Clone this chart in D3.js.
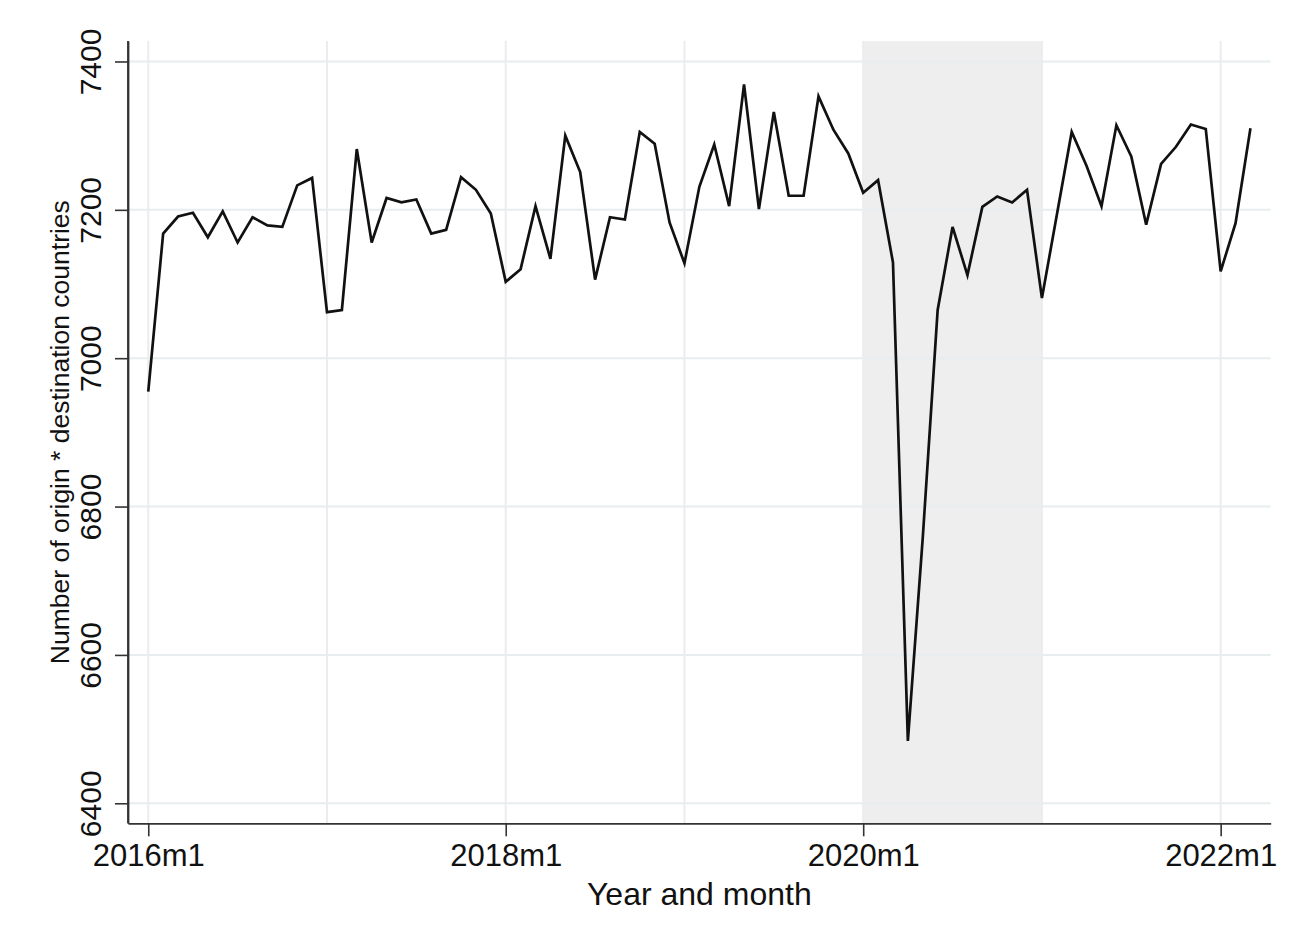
<!DOCTYPE html>
<html>
<head>
<meta charset="utf-8">
<script src="https://cdn.jsdelivr.net/npm/d3@7"></script>
<style>
  html, body { margin: 0; padding: 0; background: #ffffff; }
  svg { display: block; font-family: "Liberation Sans", Arial, sans-serif; }
</style>
</head>
<body>
<svg id="chart" width="1307" height="949"></svg>
<script>
// ---- data ----
const months = [
  "2016m1","2016m2","2016m3","2016m4","2016m5","2016m6","2016m7","2016m8","2016m9","2016m10","2016m11","2016m12",
  "2017m1","2017m2","2017m3","2017m4","2017m5","2017m6","2017m7","2017m8","2017m9","2017m10","2017m11","2017m12",
  "2018m1","2018m2","2018m3","2018m4","2018m5","2018m6","2018m7","2018m8","2018m9","2018m10","2018m11","2018m12",
  "2019m1","2019m2","2019m3","2019m4","2019m5","2019m6","2019m7","2019m8","2019m9","2019m10","2019m11","2019m12",
  "2020m1","2020m2","2020m3","2020m4","2020m5","2020m6","2020m7","2020m8","2020m9","2020m10","2020m11","2020m12",
  "2021m1","2021m2","2021m3","2021m4","2021m5","2021m6","2021m7","2021m8","2021m9","2021m10","2021m11","2021m12",
  "2022m1","2022m2","2022m3"
];
const values = [
  6955, 7168, 7191, 7196, 7163, 7198, 7156, 7190, 7179, 7177, 7233, 7243,
  7062, 7065, 7282, 7156, 7216, 7210, 7214, 7168, 7173, 7244, 7227, 7195,
  7103, 7120, 7205, 7134, 7300, 7251, 7106, 7190, 7187, 7305, 7289, 7183,
  7128, 7231, 7288, 7205, 7369, 7201, 7332, 7219, 7219, 7353, 7308, 7276,
  7223, 7240, 7129, 6484, 6758, 7065, 7177, 7112, 7204, 7218, 7210, 7227,
  7081, 7193, 7305, 7259, 7205, 7314, 7272, 7180, 7262, 7285, 7315, 7309,
  7117, 7182, 7310
];
const xTickLabels = ["2016m1", "2018m1", "2020m1", "2022m1"];
const xGridLabels = ["2016m1","2017m1","2018m1","2019m1","2020m1","2021m1","2022m1"];
const yTicks = [6400, 6600, 6800, 7000, 7200, 7400];
const shadeRange = ["2020m1", "2021m1"];
const xTitle = "Year and month";
const yTitle = "Number of origin * destination countries";

// ---- layout ----
const pLeft = 128, pRight = 1270.7, pTop = 41, pBottom = 823.3;
const svg = d3.select("#chart");

const idx = m => months.indexOf(m);
const x = d3.scaleLinear().domain([-1.36, 75.36]).range([pLeft, pRight]);
const y = d3.scaleLinear().domain([6373, 7427.6]).range([pBottom, pTop]);

// shaded period
svg.append("rect")
  .attr("x", x(idx(shadeRange[0])))
  .attr("y", pTop)
  .attr("width", x(idx(shadeRange[1])) - x(idx(shadeRange[0])))
  .attr("height", pBottom - pTop)
  .attr("fill", "#eeeeee");

// grid lines
svg.append("g").selectAll("line").data(yTicks).join("line")
  .attr("x1", pLeft).attr("x2", pRight)
  .attr("y1", d => y(d)).attr("y2", d => y(d))
  .attr("stroke", "#e6eeef").attr("stroke-width", 2);
svg.append("g").selectAll("line").data(xGridLabels).join("line")
  .attr("x1", d => x(idx(d))).attr("x2", d => x(idx(d)))
  .attr("y1", pTop).attr("y2", pBottom)
  .attr("stroke", "#ececec").attr("stroke-width", 2);

// series line
const line = d3.line()
  .x((d, i) => x(i))
  .y(d => y(d));
svg.append("path")
  .datum(values)
  .attr("d", line)
  .attr("fill", "none")
  .attr("stroke", "#111111")
  .attr("stroke-width", 2.7)
  .attr("stroke-linejoin", "miter");

// axes
const xAxis = d3.axisBottom(x)
  .tickValues(xTickLabels.map(idx))
  .tickFormat(d => months[d])
  .tickSize(13)
  .tickSizeOuter(0)
  .tickPadding(8);
const gx = svg.append("g").attr("transform", `translate(0,${pBottom})`).call(xAxis);
gx.select(".domain").attr("stroke", "#333").attr("stroke-width", 1.8);
gx.selectAll(".tick line").attr("stroke", "#333").attr("stroke-width", 1.6);
gx.selectAll(".tick text")
  .attr("font-size", 31)
  .attr("font-family", "Liberation Sans, Arial, sans-serif")
  .attr("fill", "#111");

const yAxis = d3.axisLeft(y)
  .tickValues(yTicks)
  .tickFormat(d3.format("d"))
  .tickSize(13)
  .tickSizeOuter(0);
const gy = svg.append("g").attr("transform", `translate(${pLeft},0)`).call(yAxis);
gy.select(".domain").attr("stroke", "#333").attr("stroke-width", 1.8);
gy.selectAll(".tick line").attr("stroke", "#333").attr("stroke-width", 1.6);
gy.selectAll(".tick text")
  .attr("font-size", 30)
  .attr("font-family", "Liberation Sans, Arial, sans-serif")
  .attr("fill", "#111")
  .attr("x", null).attr("dy", null)
  .attr("text-anchor", "middle")
  .attr("transform", "translate(-27,0) rotate(-90)");

// y axis line to the bottom corner
svg.append("line")
  .attr("x1", pLeft).attr("x2", pLeft).attr("y1", pTop).attr("y2", pBottom)
  .attr("stroke", "#333").attr("stroke-width", 1.8);

// axis titles
svg.append("text")
  .attr("x", (pLeft + pRight) / 2)
  .attr("y", 905)
  .attr("text-anchor", "middle")
  .attr("font-size", 32)
  .attr("fill", "#111")
  .text(xTitle);
svg.append("text")
  .attr("transform", `translate(69,${(pTop + pBottom) / 2}) rotate(-90)`)
  .attr("text-anchor", "middle")
  .attr("font-size", 26.5)
  .attr("fill", "#111")
  .text(yTitle);
</script>
</body>
</html>
